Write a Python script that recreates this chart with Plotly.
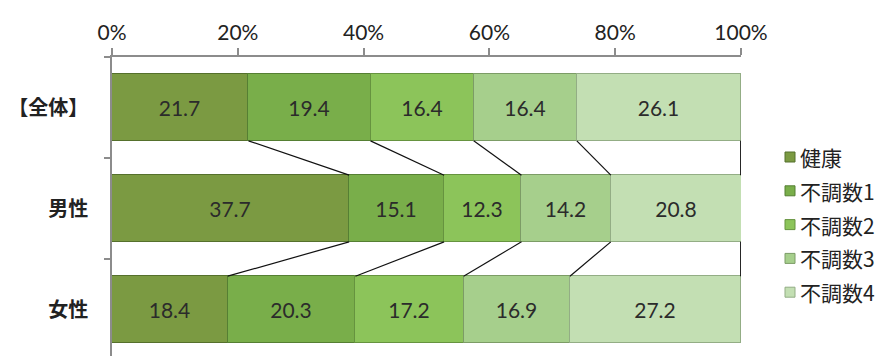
import plotly.graph_objects as go

categories = ["【全体】", "男性", "女性"]
series_names = ["健康", "不調数1", "不調数2", "不調数3", "不調数4"]
v_kenkou = [21.7, 37.7, 18.4]
v_fuchou1 = [19.4, 15.1, 20.3]
v_fuchou2 = [16.4, 12.3, 17.2]
v_fuchou3 = [16.4, 14.2, 16.9]
v_fuchou4 = [26.1, 20.8, 27.2]
x_ticks = [0, 20, 40, 60, 80, 100]

series_values = [v_kenkou, v_fuchou1, v_fuchou2, v_fuchou3, v_fuchou4]
colors = ["#7b9a42", "#79ae4a", "#8cc45a", "#a6cf8c", "#c3dfb3"]
edge_colors = ["#55702c", "#557f33", "#66933f", "#7c9c66", "#93ad85"]

W, H = 883, 356
ML, MR, MT, MB = 112, 142, 57, 0
PW, PH = W - ML - MR, H - MT - MB

ypos = list(range(len(categories)))
bar_w = 0.66

fig = go.Figure()
for name, vals, c, ec in zip(series_names, series_values, colors, edge_colors):
    fig.add_trace(go.Bar(
        y=ypos, x=vals, name=name, orientation="h", width=bar_w,
        marker=dict(color=c, line=dict(color=ec, width=1)),
        text=[f"{v:.1f}" for v in vals], textposition="inside",
        insidetextanchor="middle", textangle=0,
        textfont=dict(family="Lato, Open Sans, sans-serif", size=21, color="#2b2b2b"),
        hoverinfo="skip", showlegend=False,
    ))

# series connector lines between bars
cums = []
for i in range(len(categories)):
    acc = 0
    row = []
    for vals in series_values:
        acc += vals[i]
        row.append(acc)
    cums.append(row)

lx, ly = [], []
for i in range(len(categories) - 1):
    for k in range(len(series_values)):
        lx += [min(cums[i][k], 99.95), min(cums[i + 1][k], 99.95), None]
        ly += [i + bar_w / 2, i + 1 - bar_w / 2, None]
fig.add_trace(go.Scatter(x=lx, y=ly, mode="lines", line=dict(color="#111111", width=1.2),
                         showlegend=False, hoverinfo="skip"))

# manual legend (small squares + text), positioned in paper coordinates
leg_x0, leg_y0, leg_dy, sq = 785, 157, 33.8, 10
for j, (name, c, ec) in enumerate(zip(series_names, colors, edge_colors)):
    cy = leg_y0 + j * leg_dy
    xp0 = (leg_x0 - ML) / PW
    xp1 = (leg_x0 + sq - ML) / PW
    yp0 = 1 - (cy + sq / 2 - MT) / PH
    yp1 = 1 - (cy - sq / 2 - MT) / PH
    fig.add_shape(type="rect", xref="paper", yref="paper", x0=xp0, x1=xp1, y0=yp0, y1=yp1,
                  fillcolor=c, line=dict(color=ec, width=1))
    fig.add_annotation(xref="paper", yref="paper", x=(leg_x0 + sq + 3 - ML) / PW,
                       y=1 - (cy - MT) / PH, xanchor="left", yanchor="middle",
                       text=name, showarrow=False,
                       font=dict(family="Noto Sans CJK JP", size=21, color="#222"))

fig.update_layout(
    barmode="stack",
    width=W, height=H,
    margin=dict(l=ML, r=MR, t=MT, b=MB, autoexpand=False),
    paper_bgcolor="white", plot_bgcolor="white",
    bargap=0,
    showlegend=False,
    xaxis=dict(side="top", range=[0, 100], tickvals=x_ticks,
               ticktext=[f"{t}%" for t in x_ticks],
               ticks="outside", ticklen=7, tickcolor="#8c8c8c", tickwidth=1.5,
               showline=True, linecolor="#8c8c8c", linewidth=1.5,
               showgrid=False, zeroline=False,
               tickfont=dict(family="Lato, Open Sans, sans-serif", size=21, color="#222")),
    yaxis=dict(range=[2.46, -0.5], tickvals=ypos, ticktext=categories,
               ticks="", showline=True, linecolor="#8c8c8c", linewidth=1.5,
               showgrid=False, zeroline=False, ticklabelstandoff=18,
               tickfont=dict(family="Noto Sans CJK JP", size=20, color="#222", weight="bold")),
    yaxis2=dict(range=[2.46, -0.5], overlaying="y", side="left",
                tickvals=[-0.5, 0.5, 1.5], showticklabels=False,
                ticks="outside", ticklen=7, tickcolor="#8c8c8c", tickwidth=1.5,
                showline=False, showgrid=False, zeroline=False),
)
# invisible trace to activate yaxis2
fig.add_trace(go.Scatter(x=[None], y=[None], yaxis="y2", showlegend=False, hoverinfo="skip"))

fig.write_html("out.html")
